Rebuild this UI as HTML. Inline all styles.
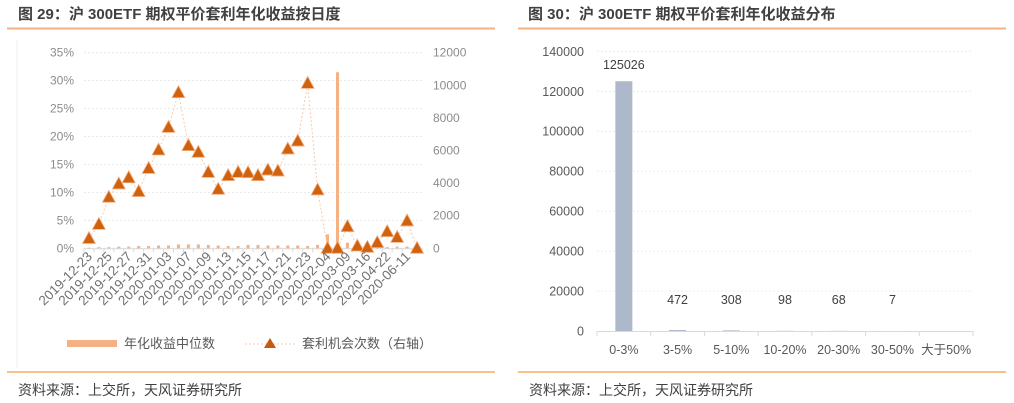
<!DOCTYPE html>
<html><head><meta charset="utf-8"><style>
body{margin:0;background:#fff;}
svg{display:block;font-family:"Liberation Sans","Noto Sans CJK SC",sans-serif;}
</style></head><body>
<svg id="s" width="1014" height="403" viewBox="0 0 1014 403" xmlns="http://www.w3.org/2000/svg">
<text x="18" y="19" font-size="15" font-weight="bold" fill="#404040">图 29：沪 300ETF 期权平价套利年化收益按日度</text>
<line x1="7" y1="28.5" x2="495" y2="28.5" stroke="#f4b183" stroke-width="2"/>
<text x="528" y="19" font-size="15" font-weight="bold" fill="#404040">图 30：沪 300ETF 期权平价套利年化收益分布</text>
<line x1="518" y1="28.5" x2="1006" y2="28.5" stroke="#f4b183" stroke-width="2"/>
<line x1="17" y1="40" x2="17" y2="368" stroke="#f2f2f2"/>
<line x1="7" y1="372" x2="495" y2="372" stroke="#f39c3c" stroke-width="1.3"/>
<line x1="518" y1="372" x2="1006" y2="372" stroke="#f39c3c" stroke-width="1.3"/>
<text x="18" y="395" font-size="14" fill="#404040">资料来源：上交所，天风证券研究所</text>
<text x="529" y="395" font-size="14" fill="#404040">资料来源：上交所，天风证券研究所</text>
<g id="left"></g>
<g id="right"></g>
<g>
<rect x="67" y="340" width="50" height="7" fill="#f4b183"/>
<text x="124" y="348" font-size="13" fill="#595959">年化收益中位数</text>
<line x1="245" y1="344" x2="295" y2="344" stroke="#f8cbad" stroke-dasharray="2,2"/>
<polygon points="270,338 276,348 264,348" fill="#c55a11"/>
<text x="302" y="348" font-size="13" fill="#595959">套利机会次数（右轴）</text>
</g>
</svg>
<script>
var NS="http://www.w3.org/2000/svg";
function mk(p,t,a){var e=document.createElementNS(NS,t);for(var k in a)e.setAttribute(k,a[k]);p.appendChild(e);return e;}
// ---- left chart data ----
var dates=["2019-12-23","2019-12-24","2019-12-25","2019-12-26","2019-12-27","2019-12-30","2019-12-31","2020-01-02","2020-01-03","2020-01-06","2020-01-07","2020-01-08","2020-01-09","2020-01-10","2020-01-13","2020-01-14","2020-01-15","2020-01-16","2020-01-17","2020-01-20","2020-01-21","2020-01-22","2020-01-23","2020-02-03","2020-02-04","2020-02-05","2020-03-09","2020-03-10","2020-03-16","2020-03-17","2020-04-22","2020-04-23","2020-06-11","2020-06-12"];
var medianYield=[0.1,0.2,0.2,0.3,0.3,0.4,0.4,0.5,0.5,0.7,0.7,0.7,0.6,0.5,0.4,0.4,0.6,0.6,0.5,0.5,0.5,0.5,0.4,0.6,2.5,31.5,1.0,0.3,0.2,0.2,0.2,0.3,0.3,0.2];
var arbCount=[600,1470,3130,3950,4330,3480,4900,6030,7420,9550,6300,5890,4660,3620,4460,4660,4640,4460,4800,4740,6090,6580,10120,3580,0,0,1330,140,60,350,1020,670,1680,0];
var leftTicks=["0%","5%","10%","15%","20%","25%","30%","35%"];
var rightTicks=["0","2000","4000","6000","8000","10000","12000"];
// ---- right chart data ----
var bins=["0-3%","3-5%","5-10%","10-20%","20-30%","30-50%","大于50%"];
var binCounts=[125026,472,308,98,68,7,null];
var rTicks=["0","20000","40000","60000","80000","100000","120000","140000"];

var L=document.getElementById("left");
var x0=84,x1=422,yB=248.3,yT=52.7,n=dates.length,step=(x1-x0)/n;
function xL(i){return x0+step*(i+0.5);}
function yPct(v){return yB-(v/35)*(yB-yT);}
function yCnt(v){return yB-(v/12000)*(yB-yT);}
leftTicks.forEach(function(t,i){var y=yPct(i*5);
 var g=mk(L,"line",{x1:x0,y1:y,x2:x1,y2:y,stroke:"#e8e8e8","stroke-dasharray":"2,2"});
 
 var t1=mk(L,"text",{x:74,y:y+4,"font-size":12,fill:"#8c8c8c","text-anchor":"end"});t1.textContent=t;
 });
rightTicks.forEach(function(t,i){var y=yCnt(i*2000);
 var t1=mk(L,"text",{x:433,y:y+4,"font-size":12,fill:"#8c8c8c"});t1.textContent=t;
 });
var ax=mk(L,"line",{x1:x0,y1:yB+0.5,x2:x1,y2:yB+0.5,stroke:"#d9d9d9"});

for(var i=0;i<=n;i++){var tk=mk(L,"line",{x1:x0+step*i,y1:yB,x2:x0+step*i,y2:yB+4,stroke:"#d9d9d9"});
 }
medianYield.forEach(function(v,i){var y=yPct(v);
 var r=mk(L,"rect",{x:xL(i)-1.5,y:y,width:3,height:yB-y,fill:"#f4b183"});
 });
var pts=arbCount.map(function(v,i){return xL(i)+","+yCnt(v);}).join(" ");
var pl=mk(L,"polyline",{points:pts,fill:"none",stroke:"#f8cbad","stroke-width":1,"stroke-dasharray":"2,2"});

arbCount.forEach(function(v,i){var cx=xL(i),cy=yCnt(v);
 var p=mk(L,"polygon",{points:cx+","+(cy-7)+" "+(cx+6.5)+","+(cy+5)+" "+(cx-6.5)+","+(cy+5),fill:"#d0620f",stroke:"#f4b183","stroke-width":0.8});
 });
dates.forEach(function(d,i){if(i%2)return;var x=xL(i)+4,y=yB+9;
 var t=mk(L,"text",{x:x,y:y,"font-size":13.5,fill:"#707070","text-anchor":"end",transform:"rotate(-45 "+x+" "+y+")"});t.textContent=d;
 });

var R=document.getElementById("right");
var rx0=597,rx1=973,ry0=331,ryT=51.3,m=bins.length,rs=(rx1-rx0)/m;
function yR(v){return ry0-(v/140000)*(ry0-ryT);}
rTicks.forEach(function(t,i){var y=yR(i*20000);
 if(i>0){var g=mk(R,"line",{x1:rx0,y1:y,x2:rx1,y2:y,stroke:"#ececec","stroke-dasharray":"2,2"});
 }
 var t1=mk(R,"text",{x:584,y:y+4.5,"font-size":12.5,fill:"#595959","text-anchor":"end"});t1.textContent=t;
 });
var rax=mk(R,"line",{x1:rx0,y1:ry0+0.5,x2:rx1,y2:ry0+0.5,stroke:"#d9d9d9"});

for(var j=0;j<=m;j++){var tk=mk(R,"line",{x1:rx0+rs*j,y1:ry0,x2:rx0+rs*j,y2:ry0+5,stroke:"#d9d9d9"});
 }
bins.forEach(function(b,j){var cx=rx0+rs*(j+0.5),v=binCounts[j];
 if(v!==null){var y=yR(v);
  var r=mk(R,"rect",{x:cx-8.5,y:y,width:17,height:ry0-y,fill:"#adb9ca"});
  
  var lb=mk(R,"text",{x:cx,y:Math.min(y,ry0-15)-12,"font-size":12.5,fill:"#404040","text-anchor":"middle"});lb.textContent=String(v);
  }
 var t=mk(R,"text",{x:cx,y:354,"font-size":12.5,fill:"#595959","text-anchor":"middle"});t.textContent=b;
 });
</script>
</body></html>
